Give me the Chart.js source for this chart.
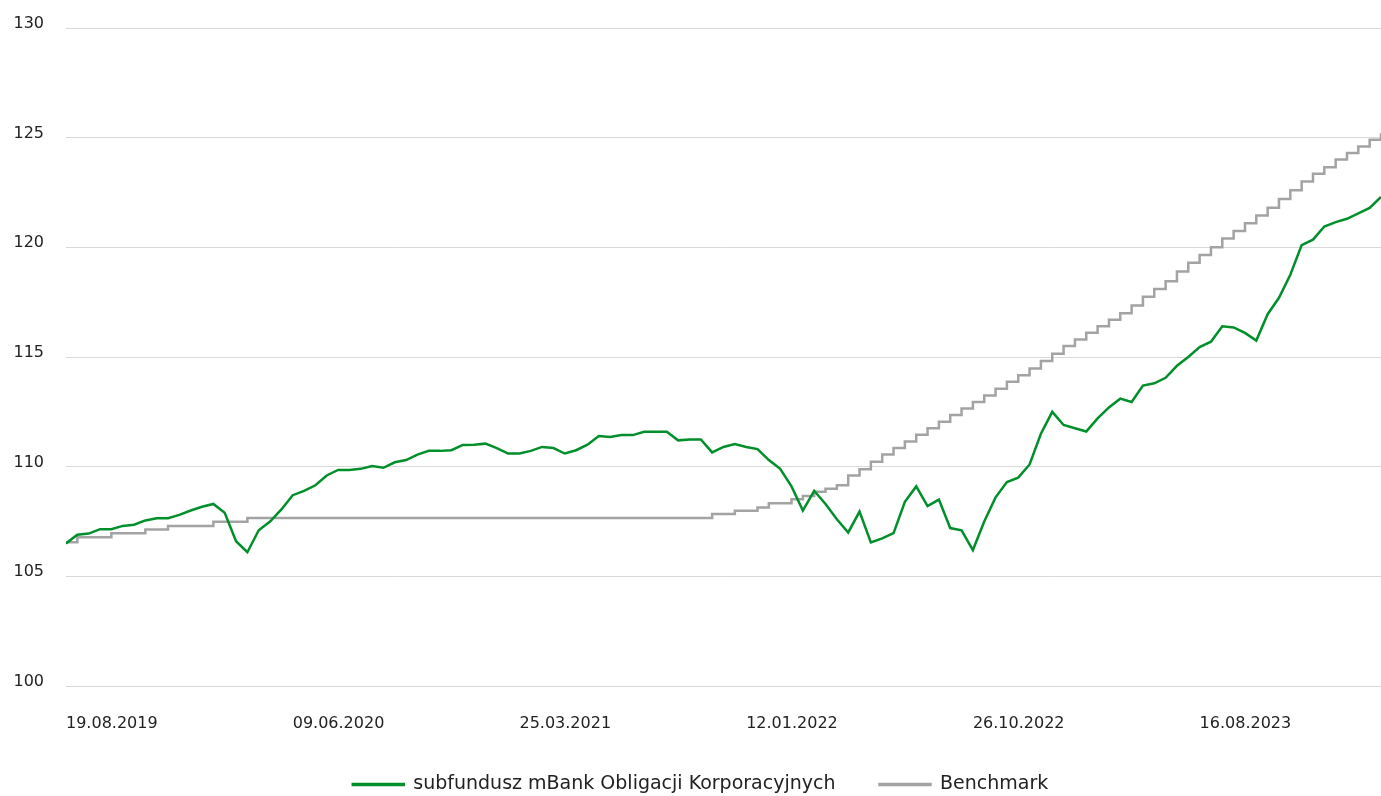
<!DOCTYPE html>
<html lang="pl">
<head>
    <meta charset="UTF-8">
    <title>subfundusz mBank Obligacji Korporacyjnych vs Benchmark</title>
    <script src="https://cdn.jsdelivr.net/npm/chart.js"></script>
    <style>
        html, body { margin: 0; padding: 0; background: #fff; }
        #wrap { width: 1381px; height: 796px; }
    </style>
</head>
<body>
<div id="wrap"><canvas id="fundChart"></canvas></div>
<script>
// one sample every 10 sessions
const sampleStep = 10;
const lastSession = 1160;
const sessionsPerLabel = 200;

const tickLabels = ['19.08.2019', '09.06.2020', '25.03.2021', '12.01.2022', '26.10.2022', '16.08.2023'];

const fundName = 'subfundusz mBank Obligacji Korporacyjnych';
const benchName = 'Benchmark';

const fundValues = [
    106.5, 106.9, 106.95, 107.15, 107.15, 107.3, 107.35, 107.55, 107.65, 107.65,
    107.8, 108.0, 108.17, 108.3, 107.9, 106.6, 106.1, 107.1, 107.5, 108.05,
    108.7, 108.9, 109.15, 109.6, 109.85, 109.85, 109.9, 110.03, 109.95, 110.2,
    110.3, 110.55, 110.72, 110.72, 110.75, 110.99, 111.0, 111.05, 110.85, 110.6,
    110.6, 110.72, 110.9, 110.85, 110.6, 110.75, 111.0, 111.4, 111.35, 111.44,
    111.44, 111.59, 111.59, 111.59, 111.2, 111.24, 111.24, 110.65, 110.9, 111.03,
    110.9, 110.8, 110.3, 109.9, 109.1, 108.0, 108.9, 108.3, 107.6, 107.0,
    107.95, 106.55, 106.73, 106.97, 108.4, 109.1, 108.2, 108.5, 107.2, 107.1,
    106.2, 107.5, 108.6, 109.3, 109.5, 110.1, 111.5, 112.5, 111.9, 111.75,
    111.6, 112.2, 112.7, 113.1, 112.95, 113.7, 113.8, 114.05, 114.6, 115.0,
    115.45, 115.7, 116.4, 116.35, 116.1, 115.75, 116.95, 117.7, 118.75, 120.1,
    120.35, 120.95, 121.15, 121.3, 121.55, 121.8, 122.3
];

const benchValues = [
    106.55, 106.78, 106.78, 106.78, 106.96, 106.96, 106.96, 107.14, 107.14, 107.3,
    107.3, 107.3, 107.3, 107.49, 107.49, 107.49, 107.66, 107.66, 107.66, 107.66,
    107.66, 107.66, 107.66, 107.66, 107.66, 107.66, 107.66, 107.66, 107.66, 107.66,
    107.66, 107.66, 107.66, 107.66, 107.66, 107.66, 107.66, 107.66, 107.66, 107.66,
    107.66, 107.66, 107.66, 107.66, 107.66, 107.66, 107.66, 107.66, 107.66, 107.66,
    107.66, 107.66, 107.66, 107.66, 107.66, 107.66, 107.66, 107.84, 107.84, 107.99,
    107.99, 108.14, 108.33, 108.33, 108.51, 108.66, 108.86, 108.99, 109.15, 109.6,
    109.88, 110.22, 110.55, 110.85, 111.15, 111.45, 111.75, 112.05, 112.35, 112.65,
    112.95, 113.25, 113.55, 113.87, 114.17, 114.48, 114.82, 115.15, 115.5, 115.8,
    116.1, 116.4, 116.7, 117.0, 117.35, 117.75, 118.1, 118.45, 118.9, 119.3,
    119.65, 120.0, 120.4, 120.75, 121.1, 121.45, 121.8, 122.2, 122.6, 123.0,
    123.35, 123.65, 124.0, 124.3, 124.6, 124.9, 125.2
];

const toPoints = vals => vals.map((v, i) => ({ x: i * sampleStep, y: v }));

// legend in the original sits a little right of centre
const nudgeLegend = {
    id: 'nudgeLegend',
    afterLayout(chart) {
        if (chart.legend) chart.legend.left += 20;
    }
};

const ctx = document.getElementById('fundChart').getContext('2d');
new Chart(ctx, {
    type: 'line',
    data: {
        datasets: [
            {
                label: fundName,
                data: toPoints(fundValues),
                borderColor: '#008f2b',
                backgroundColor: '#008f2b',
                borderWidth: 2.5,
                pointRadius: 0,
                tension: 0
            },
            {
                label: benchName,
                data: toPoints(benchValues),
                borderColor: '#a3a3a3',
                backgroundColor: '#a3a3a3',
                borderWidth: 2.5,
                pointRadius: 0,
                stepped: true
            }
        ]
    },
    plugins: [nudgeLegend],
    options: {
        responsive: true,
        maintainAspectRatio: false,
        animation: false,
        events: [],
        layout: { padding: { top: 28, right: 0, left: 0, bottom: -8 } },
        plugins: {
            tooltip: { enabled: false },
            legend: {
                position: 'bottom',
                labels: {
                    boxWidth: 51,
                    boxHeight: 1,
                    padding: 44,
                    color: '#222',
                    font: { family: 'DejaVu Sans', size: 19 }
                }
            }
        },
        scales: {
            x: {
                type: 'linear',
                min: 0,
                max: lastSession,
                grid: { display: false },
                border: { display: false },
                // one label every 200 sessions, same as the original
                afterBuildTicks: scale => {
                    scale.ticks = tickLabels.map((_, i) => ({ value: i * sessionsPerLabel }));
                },
                afterFit: scale => {
                    scale.height = 45;
                    scale.paddingLeft = 0;
                    scale.paddingRight = 0;
                },
                ticks: {
                    autoSkip: false,
                    align: 'start',
                    maxRotation: 0,
                    padding: 20,
                    color: '#222',
                    font: { family: 'DejaVu Sans', size: 16 },
                    callback: v => tickLabels[Math.round(v / sessionsPerLabel)] ?? ''
                }
            },
            y: {
                min: 100,
                max: 130,
                grid: { color: '#d9d9d9', lineWidth: 1, drawTicks: false },
                border: { display: false },
                afterFit: scale => {
                    scale.width = 66;
                    scale.paddingTop = 0;
                    scale.paddingBottom = 0;
                },
                ticks: {
                    stepSize: 5,
                    padding: 22,
                    labelOffset: -4,
                    color: '#222',
                    font: { family: 'DejaVu Sans', size: 16 }
                }
            }
        }
    }
});
</script>
</body>
</html>
